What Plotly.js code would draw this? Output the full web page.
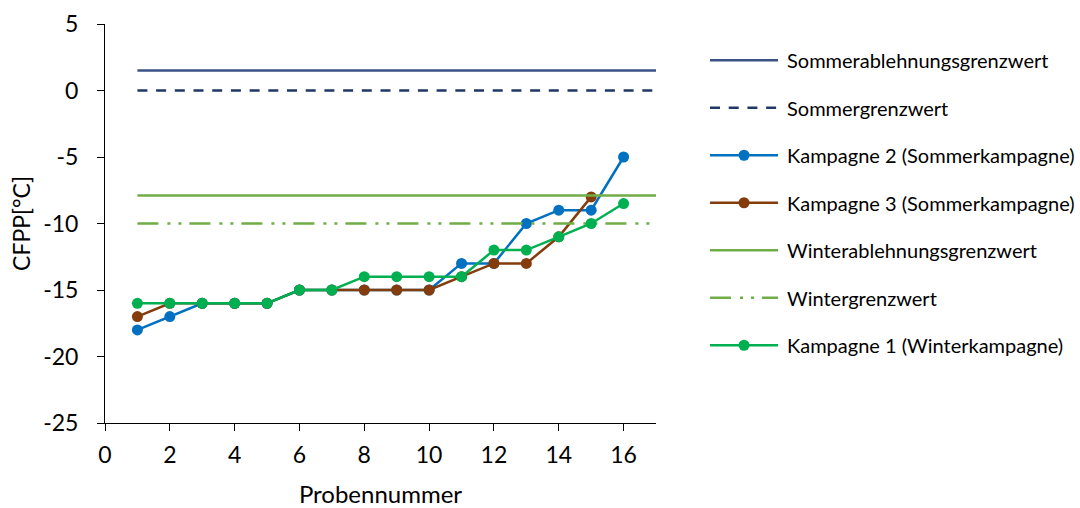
<!DOCTYPE html>
<html><head><meta charset="utf-8">
<script src="https://cdn.plot.ly/plotly-3.0.1.min.js"></script>
<style>html,body{margin:0;padding:0;background:#fff}</style>
</head><body>
<div id="chart" style="width:1080px;height:508px"></div>
<script>
const probe = [1,2,3,4,5,6,7,8,9,10,11,12,13,14,15,16];
const limitX = [1,17];
const sommerAblehnung = [1.5,1.5];
const sommerGrenz = [0,0];
const winterAblehnung = [-7.9,-7.9];
const winterGrenz = [-10,-10];
const kampagne2 = [-18,-17,-16,-16,-16,-15,-15,-15,-15,-15,-13,-13,-10,-9,-9,-5];
const kampagne3 = [-17,-16,-16,-16,-16,-15,-15,-15,-15,-15,-14,-13,-13,-11,-8,null];
const kampagne1 = [-16,-16,-16,-16,-16,-15,-15,-14,-14,-14,-14,-12,-12,-11,-10,-8.5];
const xTicks = [0,2,4,6,8,10,12,14,16];
const yTicks = [5,0,-5,-10,-15,-20,-25];

const F = 'Lato, "Open Sans", sans-serif';
const traces = [
  {x:limitX, y:sommerAblehnung, name:'Sommerablehnungsgrenzwert', mode:'lines', line:{color:'#3B5286', width:2.5}, legendgroup:'a'},
  {x:limitX, y:sommerGrenz, name:'Sommergrenzwert', mode:'lines', line:{color:'#203864', width:2.5, dash:'10px,8.7px'}, legendgroup:'b'},
  {x:probe, y:kampagne2, name:'Kampagne 2 (Sommerkampagne)', mode:'lines+markers', line:{color:'#0070C0', width:2.5}, marker:{size:11, color:'#0070C0'}, legendgroup:'c'},
  {x:probe, y:kampagne3, name:'Kampagne 3 (Sommerkampagne)', mode:'lines+markers', line:{color:'#843C0C', width:2.5}, marker:{size:11, color:'#843C0C'}, legendgroup:'d'},
  {x:limitX, y:winterAblehnung, name:'Winterablehnungsgrenzwert', mode:'lines', line:{color:'#70AD47', width:2.5}, legendgroup:'e'},
  {x:limitX, y:winterGrenz, name:'Wintergrenzwert', mode:'lines', line:{color:'#70AD47', width:2.5, dash:'21px,9px,3px,8px,3px,8px'}, legendgroup:'f'},
  {x:probe, y:kampagne1, name:'Kampagne 1 (Winterkampagne)', mode:'lines+markers', line:{color:'#00B050', width:2.5}, marker:{size:11, color:'#00B050'}, legendgroup:'g'}
];
const layout = {
  width:1080, height:508,
  margin:{l:105, r:424, t:24, b:85, autoexpand:false},
  paper_bgcolor:'#fff', plot_bgcolor:'#fff',
  font:{family:F, size:23, color:'#000'},
  showlegend:true,
  legend:{xref:'container', x:0.6528, xanchor:'left', yref:'paper', y:0.958, yanchor:'top', maxheight:500, font:{family:F, size:20, color:'#000'}, tracegroupgap:18.5, itemwidth:72, borderwidth:0, bgcolor:'rgba(0,0,0,0)'},
  xaxis:{range:[0,17], tickvals:xTicks, ticktext:xTicks.map(String), ticks:'outside', ticklen:7, tickcolor:'#000', showline:true, linecolor:'#000', linewidth:1, showgrid:false, zeroline:false, ticklabelstandoff:4, title:{text:'Probennummer', font:{family:F, size:24}, standoff:20}, tickfont:{size:23}},
  yaxis:{range:[-25,5], tickvals:yTicks, ticktext:yTicks.map(String), ticks:'outside', ticklen:7, tickcolor:'#000', showline:true, linecolor:'#000', linewidth:1, showgrid:false, zeroline:false, ticklabelstandoff:14, title:{text:'CFPP[°C]', font:{family:F, size:23}, standoff:6}, tickfont:{size:23}}
};
Plotly.newPlot('chart', traces, layout, {displayModeBar:false, staticPlot:true}).then(function(gd){
  // lengthen legend line samples to match the reference legend
  gd.querySelectorAll('.legend .traces').forEach(function(t){
    t.querySelectorAll('path.js-line').forEach(function(p){ p.setAttribute('d','M5,0h68'); });
    t.querySelectorAll('.legendpoints path.scatterpts').forEach(function(p){ p.setAttribute('transform','translate(39,0)'); });
  });
});
</script>
</body></html>
